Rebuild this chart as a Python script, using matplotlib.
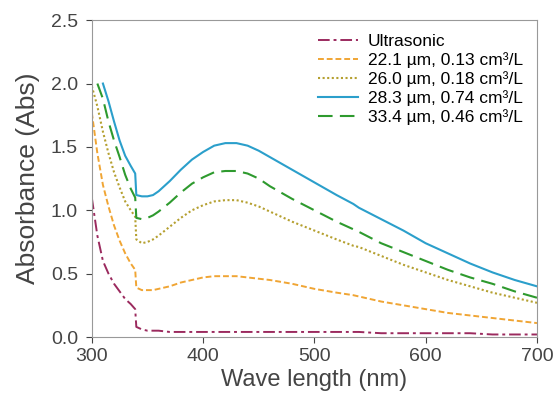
import numpy as np
import matplotlib
matplotlib.use('Agg')
import matplotlib.pyplot as plt

plt.rcParams['font.family'] = ['Liberation Sans', 'DejaVu Sans']

nan = np.nan

# 波长 (nm)
wavelength = [300, 305, 310, 315, 320, 325, 330, 335, 339, 340, 345, 350, 355, 360,
              370, 380, 390, 400, 410, 420, 430, 440, 450, 460, 480, 500, 520, 535,
              540, 560, 580, 600, 620, 640, 660, 680, 700]

ultrasonic = [1.10, 0.80, 0.60, 0.50, 0.42, 0.36, 0.30, 0.26, 0.22, 0.08, 0.06, 0.05, 0.05, 0.05,
              0.04, 0.04, 0.04, 0.04, 0.04, 0.04, 0.04, 0.04, 0.04, 0.04, 0.04, 0.04, 0.04, 0.04,
              0.04, 0.03, 0.03, 0.03, 0.03, 0.03, 0.02, 0.02, 0.02]

s_221 = [1.77, 1.45, 1.20, 1.03, 0.88, 0.76, 0.66, 0.58, 0.53, 0.39, 0.37, 0.37, 0.37, 0.38,
         0.40, 0.43, 0.45, 0.47, 0.48, 0.48, 0.48, 0.47, 0.46, 0.45, 0.42, 0.38, 0.35, 0.33,
         0.32, 0.28, 0.25, 0.22, 0.19, 0.17, 0.15, 0.13, 0.11]

s_260 = [1.98, 1.82, 1.62, 1.45, 1.30, 1.18, 1.07, 1.00, 0.95, 0.77, 0.74, 0.75, 0.77, 0.80,
         0.87, 0.94, 1.00, 1.04, 1.07, 1.08, 1.08, 1.06, 1.03, 0.99, 0.91, 0.84, 0.77, 0.72,
         0.71, 0.64, 0.57, 0.51, 0.45, 0.40, 0.35, 0.31, 0.27]

s_283 = [nan, nan, 2.00, 1.86, 1.70, 1.55, 1.43, 1.35, 1.29, 1.12, 1.11, 1.11, 1.12, 1.15,
         1.23, 1.32, 1.40, 1.46, 1.51, 1.53, 1.53, 1.51, 1.47, 1.42, 1.32, 1.22, 1.12, 1.05,
         1.02, 0.93, 0.84, 0.74, 0.66, 0.58, 0.51, 0.45, 0.40]

s_334 = [nan, 2.00, 1.88, 1.70, 1.55, 1.42, 1.28, 1.17, 1.10, 0.94, 0.93, 0.94, 0.96, 0.99,
         1.06, 1.14, 1.21, 1.26, 1.30, 1.31, 1.31, 1.29, 1.25, 1.19, 1.09, 1.00, 0.91, 0.85,
         0.83, 0.74, 0.67, 0.60, 0.53, 0.47, 0.42, 0.36, 0.31]

labels = ['Ultrasonic',
          '22.1 µm, 0.13 cm³/L',
          '26.0 µm, 0.18 cm³/L',
          '28.3 µm, 0.74 cm³/L',
          '33.4 µm, 0.46 cm³/L']

fig = plt.figure(figsize=(5.53, 4.12), dpi=100)
ax = fig.add_axes([0.166, 0.182, 0.805, 0.769])

ax.plot(wavelength, ultrasonic, color='#9b2a5e', lw=1.4, ls=(0, (6, 2, 1.5, 2)), label=labels[0])
ax.plot(wavelength, s_221, color='#f0a534', lw=1.4, ls=(0, (3, 1.5)), label=labels[1])
ax.plot(wavelength, s_260, color='#b5a030', lw=1.5, ls=(0, (1, 1.2)), label=labels[2])
ax.plot(wavelength, s_283, color='#2b9fcb', lw=1.5, ls='-', label=labels[3])
ax.plot(wavelength, s_334, color='#2e9a2e', lw=1.5, ls=(0, (7, 3.5)), label=labels[4])

ax.set_xlim(300, 700)
ax.set_ylim(0, 2.5)
ax.set_xticks([300, 400, 500, 600, 700])
ax.set_yticks([0.0, 0.5, 1.0, 1.5, 2.0, 2.5])
ax.set_yticklabels(['0.0', '0.5', '1.0', '1.5', '2.0', '2.5'])
ax.tick_params(direction='out', length=4, labelsize=14, colors='#444444', pad=4)
ax.tick_params(axis='y', pad=6)
for sp in ax.spines.values():
    sp.set_color('#999999')

ax.set_xlabel('Wave length (nm)', fontsize=17, color='#444444', labelpad=3)
ax.set_ylabel('Absorbance (Abs)', fontsize=19, color='#444444', labelpad=8)

ax.legend(loc='upper right', frameon=False, fontsize=12.5, handlelength=2.3,
          labelspacing=0.18, borderaxespad=0.4, handletextpad=0.6)

plt.savefig('out.png', dpi=100)
